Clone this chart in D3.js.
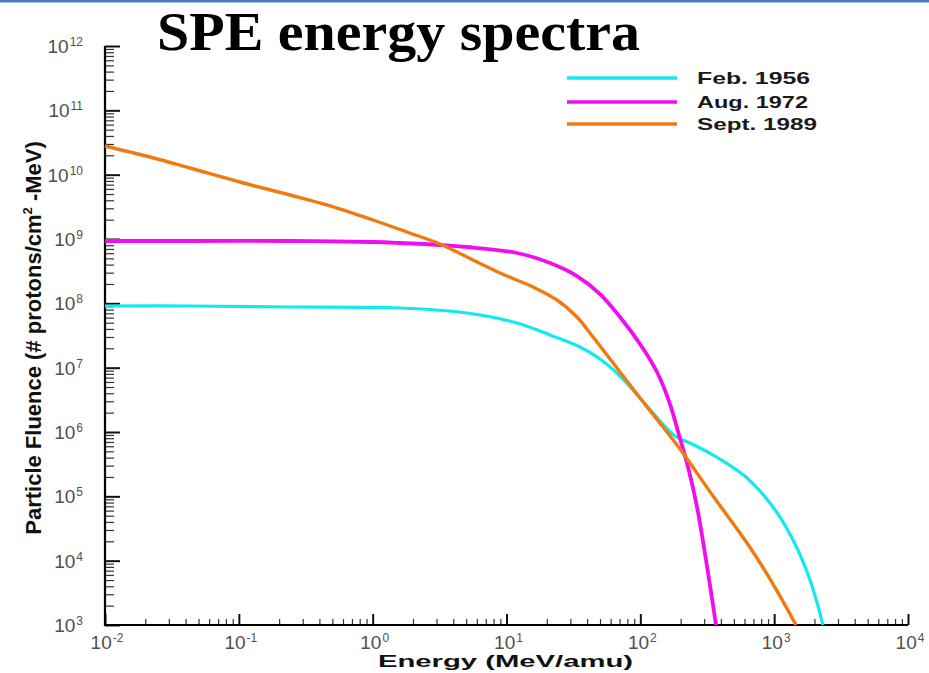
<!DOCTYPE html>
<html>
<head>
<meta charset="utf-8">
<script src="https://cdn.jsdelivr.net/npm/d3@7"></script>
<style>
  html, body { margin: 0; padding: 0; background: #fff; }
  svg { display: block; }
</style>
</head>
<body>
<svg id="chart" width="929" height="673"></svg>
<script>
// ---- data: solar particle event proton spectra (energy in MeV/amu, fluence) ----
const seriesNames = ["Feb. 1956", "Aug. 1972", "Sept. 1989"];

const energyFeb1956 = [0.01, 0.04316, 0.2411, 1.601, 5.069, 11.98, 21.14, 35.42, 49.96, 70.50, 99.45, 140.3, 181.6, 235.0, 349.2, 626.9, 980.4, 1383, 1853, 2317];
const fluenceFeb1956 = [9.085e7, 9.085e7, 8.767e7, 8.457e7, 7.071e7, 4.944e7, 3.218e7, 2.094e7, 1.363e7, 7.418e6, 3.375e6, 1.482e6, 8.663e5, 6.741e5, 4.386e5, 1.925e5, 6.820e4, 2.094e4, 5.0e3, 1.0e3];

const energyAug1972 = [0.01, 0.0432, 0.2411, 1.006, 1.601, 3.185, 5.069, 11.98, 21.14, 33.63, 49.96, 70.50, 99.45, 133.2, 166.6, 194.5, 227.2, 265.2, 309.6, 367.8];
const fluenceAug1972 = [9.307e8, 9.307e8, 9.307e8, 8.979e8, 8.664e8, 8.066e8, 7.507e8, 6.056e8, 4.234e8, 2.658e8, 1.396e8, 6.128e7, 2.332e7, 8.557e6, 2.723e6, 8.980e5, 2.855e5, 6.820e4, 1.023e4, 1.0e3];

const energySept1989 = [0.01, 0.02169, 0.04316, 0.1020, 0.2411, 0.5415, 1.006, 1.806, 3.185, 5.069, 8.943, 15.78, 23.85, 33.63, 44.30, 56.36, 70.50, 99.45, 147.7, 197.9, 349.2, 626.9, 980.4, 1457];
const fluenceSept1989 = [2.790e10, 1.881e10, 1.269e10, 7.690e9, 4.829e9, 3.031e9, 1.974e9, 1.284e9, 8.358e8, 5.248e8, 2.960e8, 1.794e8, 1.126e8, 6.128e7, 2.996e7, 1.572e7, 8.557e6, 3.375e6, 1.195e6, 5.437e5, 1.011e5, 1.880e4, 4.334e3, 1.0e3];

// decade exponents used for the axis tick labels
const xExponents = [-2, -1, 0, 1, 2, 3, 4];
const yExponents = [3, 4, 5, 6, 7, 8, 9, 10, 11, 12];

// ---- layout ----
const svg = d3.select("#chart");
const W = 929, H = 673;
const plot = { left: 105, right: 908, top: 46, bottom: 625 };

const x = d3.scaleLog().domain([1e-2, 1e4]).range([plot.left, plot.right]);
const y = d3.scaleLog().domain([1e3, 1e12]).range([plot.bottom, plot.top]);

const colors = ["#12eaee", "#f20cf0", "#f07a10"];
const widths = [3.2, 3.8, 3.4];

// slide rule along the top edge
svg.append("rect").attr("x", 0).attr("y", 0).attr("width", W).attr("height", 2.5)
  .attr("fill", "#4a7cc8");

// ---- title ----
svg.append("text")
  .attr("x", 157).attr("y", 50)
  .attr("font-family", "'Liberation Serif', 'DejaVu Serif', serif")
  .attr("font-weight", "bold")
  .attr("font-size", 54)
  .attr("textLength", 483)
  .attr("lengthAdjust", "spacingAndGlyphs")
  .attr("fill", "#000")
  .text("SPE energy spectra");

// ---- ticks ----
const majorX = xExponents.map(e => Math.pow(10, e));
const minorX = d3.merge(xExponents.slice(0, -1).map(e => d3.range(2, 10).map(k => k * Math.pow(10, e))));
const majorY = yExponents.map(e => Math.pow(10, e));
const minorY = d3.merge(yExponents.slice(0, -1).map(e => d3.range(2, 10).map(k => k * Math.pow(10, e))));

function styleAxis(g, w, c) {
  g.selectAll(".domain").remove();
  g.selectAll(".tick line").attr("stroke", c).attr("stroke-width", w);
  g.selectAll(".tick text").remove();
}

svg.append("g").attr("transform", `translate(0,${plot.bottom})`)
  .call(d3.axisBottom(x).tickValues(minorX).tickSize(-6).tickSizeOuter(0).tickFormat(""))
  .call(g => styleAxis(g, 1.2, "#333"));
svg.append("g").attr("transform", `translate(0,${plot.bottom})`)
  .call(d3.axisBottom(x).tickValues(majorX).tickSize(-11).tickSizeOuter(0).tickFormat(""))
  .call(g => styleAxis(g, 2, "#111"));

svg.append("g").attr("transform", `translate(${plot.left},0)`)
  .call(d3.axisLeft(y).tickValues(minorY).tickSize(-9).tickSizeOuter(0).tickFormat(""))
  .call(g => styleAxis(g, 1.2, "#333"));
svg.append("g").attr("transform", `translate(${plot.left},0)`)
  .call(d3.axisLeft(y).tickValues(majorY).tickSize(-15).tickSizeOuter(0).tickFormat(""))
  .call(g => styleAxis(g, 2, "#111"));

// axis lines
svg.append("line").attr("x1", plot.left).attr("x2", plot.left)
  .attr("y1", plot.top).attr("y2", plot.bottom + 1)
  .attr("stroke", "#000").attr("stroke-width", 2.2);
svg.append("line").attr("x1", plot.left - 1).attr("x2", plot.right)
  .attr("y1", plot.bottom).attr("y2", plot.bottom)
  .attr("stroke", "#000").attr("stroke-width", 2.2);

// ---- tick labels (10 with superscript exponent) ----
const tickFont = "Arial, 'Liberation Sans', sans-serif";
function powerLabel(sel) {
  sel.append("tspan").attr("font-size", 19).text("10");
  sel.append("tspan").attr("font-size", 12).attr("dx", 1).attr("dy", -7).text(e => String(e));
}

svg.append("g").selectAll("text").data(xExponents).join("text")
  .attr("x", e => x(Math.pow(10, e)) + 2)
  .attr("y", 649)
  .attr("text-anchor", "middle")
  .attr("font-family", tickFont)
  .attr("fill", "#505050")
  .call(powerLabel);

svg.append("g").selectAll("text").data(yExponents).join("text")
  .attr("x", 83)
  .attr("y", e => y(Math.pow(10, e)) + 7)
  .attr("text-anchor", "end")
  .attr("font-family", tickFont)
  .attr("fill", "#505050")
  .call(powerLabel);

// ---- axis titles ----
svg.append("text")
  .attr("x", 378).attr("y", 667)
  .attr("font-family", tickFont).attr("font-weight", "bold").attr("font-size", 17)
  .attr("textLength", 255).attr("lengthAdjust", "spacingAndGlyphs")
  .attr("fill", "#111")
  .text("Energy (MeV/amu)");

const yTitle = svg.append("text")
  .attr("transform", "translate(41,338) rotate(-90)")
  .attr("text-anchor", "middle")
  .attr("font-family", tickFont).attr("font-weight", "bold").attr("font-size", 22)
  .attr("fill", "#111");
yTitle.append("tspan").text("Particle Fluence (# protons/cm");
yTitle.append("tspan").attr("font-size", 13).attr("dy", -9).text("2");
yTitle.append("tspan").attr("dy", 9).text(" -MeV)");

// ---- curves ----
const series = [
  { name: seriesNames[0], energy: energyFeb1956, fluence: fluenceFeb1956 },
  { name: seriesNames[1], energy: energyAug1972, fluence: fluenceAug1972 },
  { name: seriesNames[2], energy: energySept1989, fluence: fluenceSept1989 }
];

const line = d3.line()
  .x(d => x(d[0]))
  .y(d => y(d[1]))
  .curve(d3.curveCatmullRom.alpha(0.5));

svg.append("g").selectAll("path").data(series).join("path")
  .attr("d", s => line(d3.zip(s.energy, s.fluence)))
  .attr("fill", "none")
  .attr("stroke", (s, i) => colors[i])
  .attr("stroke-width", (s, i) => widths[i])
  .attr("stroke-linejoin", "round")
  .attr("stroke-linecap", "butt");

// ---- legend ----
const legend = svg.append("g");
const legendY = [78, 102, 124];
const legendTextW = [113, 111, 120];
series.forEach((s, i) => {
  legend.append("line")
    .attr("x1", 567).attr("x2", 677)
    .attr("y1", legendY[i]).attr("y2", legendY[i])
    .attr("stroke", colors[i]).attr("stroke-width", 3.5);
  legend.append("text")
    .attr("x", 697).attr("y", legendY[i] + 6)
    .attr("font-family", tickFont).attr("font-weight", "bold").attr("font-size", 17)
    .attr("textLength", legendTextW[i]).attr("lengthAdjust", "spacingAndGlyphs")
    .attr("fill", "#1a1a1a")
    .text(s.name);
});
</script>
</body>
</html>
